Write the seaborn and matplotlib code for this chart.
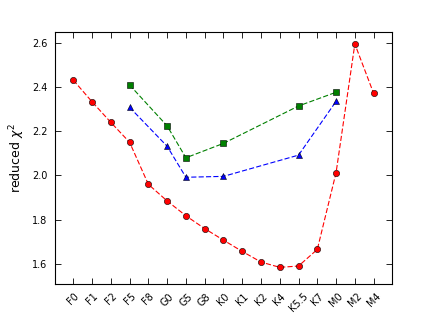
import matplotlib
matplotlib.use("Agg")
import matplotlib.pyplot as plt
import numpy as np
import seaborn as sns

# spectral types along the x axis (position 0 is left blank)
spectral_types = ["F0", "F1", "F2", "F5", "F8", "G0", "G5", "G8", "K0", "K1",
                  "K2", "K4", "K5.5", "K7", "M0", "M2", "M4"]

# red circles: every spectral type
red_types = spectral_types
red_chi2 = [2.431, 2.333, 2.240, 2.150, 1.960, 1.885, 1.818, 1.760, 1.708,
            1.657, 1.609, 1.585, 1.591, 1.666, 2.013, 2.594, 2.371]

# blue triangles and green squares: subset of types
sub_types = ["F5", "G0", "G5", "K0", "K5.5", "M0"]
blue_chi2 = [2.308, 2.132, 1.992, 1.996, 2.092, 2.335]
green_chi2 = [2.409, 2.224, 2.080, 2.145, 2.314, 2.376]

pos = {t: i + 1 for i, t in enumerate(spectral_types)}

sns.set_style("ticks")
plt.rcParams["font.family"] = ["DejaVu Sans"]
plt.rcParams["xtick.direction"] = "in"
plt.rcParams["ytick.direction"] = "in"
plt.rcParams["lines.scale_dashes"] = False
for k in ["text.color", "axes.labelcolor", "xtick.color", "ytick.color", "axes.edgecolor"]:
    plt.rcParams[k] = "black"

fig, ax = plt.subplots(figsize=(4.36, 3.16), dpi=100)
fig.subplots_adjust(left=0.125, right=0.9, bottom=0.1, top=0.9)

series = [
    (red_types, red_chi2, "r", "o"),
    (sub_types, blue_chi2, "b", "^"),
    (sub_types, green_chi2, "g", "s"),
]
for types, vals, col, mk in series:
    sns.lineplot(x=[pos[t] for t in types], y=vals, ax=ax, color=col,
                 linestyle="--", dashes=(3, 2.4), linewidth=0.8, marker=mk,
                 markersize=4.5, markerfacecolor=col, markeredgecolor="k",
                 markeredgewidth=0.4)

ax.set_xlim(0, 18)
ax.set_ylim(1.508, 2.65)
ax.set_xticks(range(18))
ax.set_xticklabels([""] + spectral_types, rotation=45, fontsize=7)
ax.set_yticks([1.6, 1.8, 2.0, 2.2, 2.4, 2.6])
ax.set_yticklabels(["1.6", "1.8", "2.0", "2.2", "2.4", "2.6"], fontsize=7)
ax.tick_params(top=True, right=True, bottom=True, left=True, length=4,
               width=0.6, pad=5, labeltop=False, labelright=False)
for s in ax.spines.values():
    s.set_linewidth(0.8)
    s.set_visible(True)
ax.set_ylabel(r"reduced $\chi^2$", fontsize=9)

plt.savefig("out.png", dpi=100)
plt.close()
